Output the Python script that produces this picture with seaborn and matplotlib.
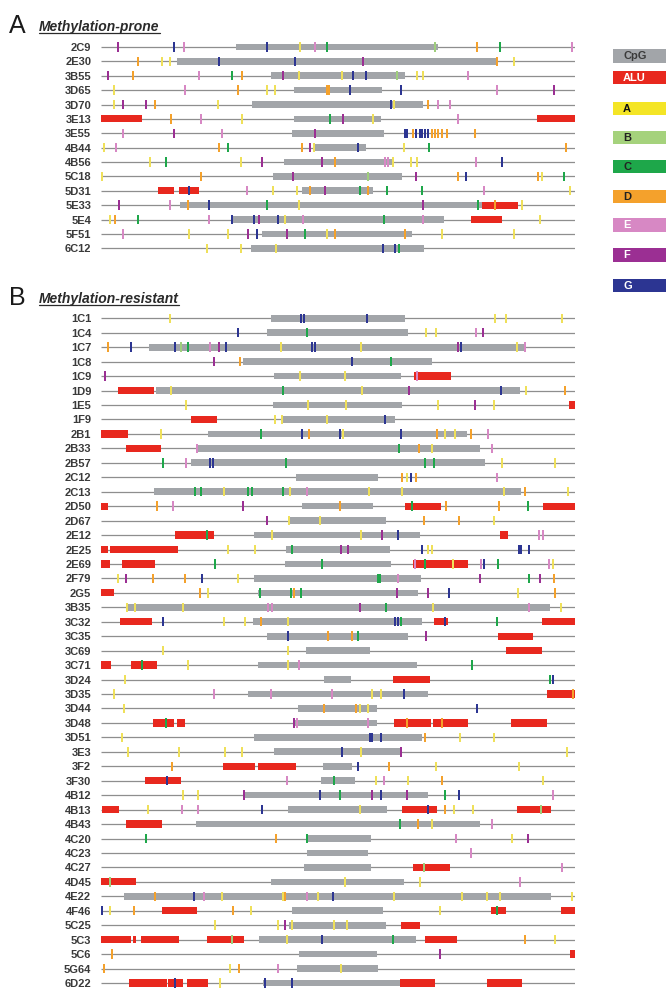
import matplotlib
matplotlib.use("Agg")
import matplotlib.pyplot as plt
import seaborn as sns
import pandas as pd
from matplotlib.lines import Line2D
from matplotlib.patches import Rectangle

# ---------------------------------------------------------------- data
# Positions are in bp along each analysed region (region spans 18..1440).
SPAN = (18, 1440)

PRONE_NAMES = ["2C9", "2E30", "3B55", "3D65", "3D70", "3E13", "3E55", "4B44",
               "4B56", "5C18", "5D31", "5E33", "5E4", "5F51", "6C12"]
PRONE_CPG = [(423, 1030), (245, 1210), (528, 930), (597, 860), (472, 985),
             (597, 858), (590, 868), (660, 812), (567, 890), (535, 922),
             (622, 833), (255, 1160), (410, 1047), (500, 952), (468, 988)]
PRONE_ALU = [[], [], [], [], [], [(18, 140), (1325, 1440)], [], [], [], [],
             [(190, 238), (252, 312)], [(1160, 1270)], [(1128, 1222)], [], []]
PRONE_MOTIFS = [
    [(68, "F"), (238, "G"), (268, "E"), (516, "G"), (615, "A"), (660, "E"), (695, "C"),
     (1020, "B"), (1145, "D"), (1215, "C"), (1430, "E")],
    [(128, "D"), (200, "A"), (225, "A"), (373, "G"), (600, "G"), (805, "F"), (1205, "D"), (1258, "A")],
    [(38, "F"), (113, "D"), (312, "E"), (410, "C"), (440, "D"), (563, "F"), (612, "A"), (742, "A"),
     (775, "G"), (812, "G"), (905, "B"), (965, "A"), (985, "A"), (1118, "E")],
    [(58, "A"), (270, "E"), (430, "D"), (515, "A"), (540, "A"), (695, "D"), (703, "D"), (765, "G"),
     (918, "G"), (1205, "E"), (1378, "F")],
    [(58, "A"), (85, "F"), (153, "F"), (180, "D"), (368, "A"), (888, "G"), (898, "A"), (998, "D"),
     (1028, "E"), (1065, "E")],
    [(228, "D"), (318, "E"), (440, "A"), (705, "C"), (745, "F"), (835, "A"), (1088, "E")],
    [(83, "E"), (238, "F"), (380, "E"), (660, "F"), (930, "G"), (936, "G"), (955, "D"), (962, "G"),
     (975, "G"), (982, "G"), (990, "G"), (998, "G"), (1010, "D"), (1020, "D"), (1030, "D"),
     (1040, "D"), (1055, "D"), (1140, "D")],
    [(28, "A"), (62, "E"), (373, "D"), (400, "C"), (620, "D"), (645, "F"), (657, "A"), (788, "G"),
     (928, "A"), (1002, "C"), (1412, "D")],
    [(165, "A"), (212, "C"), (438, "A"), (500, "F"), (680, "F"), (720, "D"), (870, "E"), (880, "E"),
     (895, "A"), (948, "A"), (965, "A"), (1142, "E"), (1220, "G")],
    [(20, "A"), (318, "D"), (595, "F"), (818, "B"), (962, "F"), (1090, "D"), (1112, "G"),
     (1330, "D"), (1340, "A"), (1408, "C")],
    [(283, "G"), (455, "E"), (535, "A"), (605, "A"), (645, "D"), (690, "F"), (795, "C"), (820, "D"),
     (875, "C"), (982, "C"), (1168, "E"), (1425, "A")],
    [(72, "F"), (225, "E"), (280, "D"), (343, "G"), (515, "C"), (612, "A"), (985, "F"), (1150, "C"),
     (1200, "D"), (1282, "A")],
    [(45, "A"), (60, "D"), (128, "C"), (343, "E"), (410, "G"), (478, "G"), (493, "F"), (550, "G"),
     (570, "A"), (625, "E"), (868, "C"), (985, "E"), (1335, "A")],
    [(85, "E"), (283, "A"), (398, "A"), (460, "F"), (485, "G"), (575, "F"), (630, "C"), (695, "A"),
     (720, "D"), (930, "D"), (1040, "A"), (1258, "A")],
    [(335, "A"), (438, "A"), (542, "A"), (865, "G"), (900, "G"), (912, "C")],
]

RESIST_NAMES = ["1C1", "1C4", "1C7", "1C8", "1C9", "1D9", "1E5", "1F9", "2B1", "2B33",
                "2B57", "2C12", "2C13", "2D50", "2D67", "2E12", "2E25", "2E69", "2F79",
                "2G5", "3B35", "3C32", "3C35", "3C69", "3C71", "3D24", "3D35", "3D44",
                "3D48", "3D51", "3E3", "3F2", "3F30", "4B12", "4B13", "4B43", "4C20",
                "4C23", "4C27", "4D45", "4E22", "4F46", "5C25", "5C3", "5C6", "5G64", "6D22"]
RESIST_CPG = [(527, 930), (515, 940), (162, 1290), (445, 1010), (538, 918), (182, 1275),
              (535, 922), (560, 900), (340, 1115), (302, 1155), (287, 1170), (603, 850),
              (178, 1277), (620, 835), (582, 872), (478, 976), (572, 885), (570, 887),
              (478, 977), (490, 970), (93, 1365), (475, 980), (515, 940), (632, 826),
              (490, 965), (687, 768), (458, 998), (610, 847), (595, 845), (477, 980),
              (538, 918), (685, 772), (677, 780), (450, 1000), (578, 877), (302, 1155),
              (632, 828), (635, 820), (627, 828), (528, 928), (88, 1368), (590, 865),
              (583, 872), (492, 962), (612, 845), (605, 850), (505, 915)]
RESIST_ALU = [
    [], [], [], [], [(957, 1068)], [(70, 177)], [(1422, 1440)], [(287, 365)], [(18, 98)],
    [(92, 198)], [], [], [], [(18, 40), (930, 1038), (1345, 1440)], [],
    [(240, 358), (1215, 1238)], [(18, 38), (45, 250)], [(18, 45), (82, 180), (955, 1120)],
    [], [(18, 58)], [], [(75, 172), (1018, 1060), (1340, 1440)], [(1208, 1315)],
    [(1232, 1342)], [(18, 48), (108, 185)], [(893, 1005)], [(1355, 1440)], [],
    [(175, 238), (245, 270), (898, 1008), (1013, 1120), (1248, 1355)], [], [],
    [(383, 480), (490, 602)], [(150, 258)], [], [(22, 72), (922, 1027), (1265, 1368)],
    [(92, 200)], [], [], [(955, 1065)], [(18, 122)], [],
    [(200, 307), (1188, 1233), (1398, 1440)], [(918, 975)],
    [(18, 108), (114, 122), (137, 252), (337, 446), (990, 1085)], [(1425, 1440)], [],
    [(103, 215), (220, 265), (275, 338), (915, 1020), (1175, 1280)],
]
RESIST_MOTIFS = [
    [(225, "A"), (618, "G"), (628, "G"), (815, "G"), (1200, "A"), (1232, "A"), (1400, "A")],
    [(430, "G"), (635, "C"), (993, "A"), (1022, "A"), (1143, "E"), (1165, "F")],
    [(38, "D"), (108, "G"), (240, "G"), (258, "B"), (280, "C"), (345, "E"), (372, "F"), (393, "G"),
     (557, "A"), (651, "G"), (659, "G"), (797, "A"), (1090, "F"), (1098, "G"), (1265, "A"), (1290, "E")],
    [(358, "F"), (435, "D"), (772, "G"), (888, "C")],
    [(30, "F"), (615, "A"), (750, "A"), (965, "E")],
    [(228, "A"), (565, "C"), (800, "A"), (942, "F"), (1218, "G"), (1292, "A"), (1410, "D")],
    [(273, "A"), (640, "A"), (752, "A"), (1030, "A"), (1140, "F"), (1198, "A")],
    [(540, "A"), (562, "A"), (695, "A"), (870, "G")],
    [(198, "A"), (497, "C"), (622, "G"), (642, "D"), (735, "G"), (745, "A"), (918, "G"),
     (1025, "D"), (1050, "A"), (1080, "A"), (1128, "D"), (1180, "E")],
    [(305, "E"), (912, "C"), (972, "D"), (1012, "A"), (1190, "E")],
    [(205, "C"), (273, "E"), (346, "G"), (354, "G"), (572, "C"), (990, "C"), (1018, "C"),
     (1220, "A"), (1380, "A")],
    [(922, "D"), (935, "A"), (947, "G"), (962, "D"), (1205, "E")],
    [(300, "C"), (318, "C"), (388, "A"), (458, "C"), (472, "C"), (565, "C"), (585, "A"),
     (635, "E"), (822, "A"), (920, "A"), (1228, "A"), (1290, "D"), (1420, "A")],
    [(185, "D"), (235, "E"), (443, "F"), (735, "D"), (950, "C"), (1052, "D"), (1212, "D"), (1300, "C")],
    [(517, "F"), (582, "A"), (675, "A"), (988, "D"), (1092, "D"), (1198, "A")],
    [(335, "C"), (530, "A"), (797, "A"), (860, "F"), (908, "G"), (1333, "E"), (1345, "E")],
    [(398, "A"), (480, "A"), (590, "C"), (738, "F"), (760, "F"), (980, "G"), (1000, "A"),
     (1010, "A"), (1271, "G"), (1279, "G"), (1302, "G")],
    [(360, "C"), (680, "C"), (960, "E"), (990, "C"), (1075, "A"), (1158, "E"), (1168, "G"),
     (1210, "C"), (1362, "E"), (1375, "A")],
    [(68, "A"), (93, "F"), (175, "D"), (270, "D"), (320, "G"), (428, "A"), (848, "C"), (856, "C"),
     (910, "E"), (1155, "F"), (1302, "C"), (1335, "F"), (1378, "D")],
    [(315, "D"), (340, "A"), (495, "C"), (588, "C"), (597, "D"), (618, "C"), (907, "F"),
     (998, "F"), (1062, "G"), (1270, "A"), (1380, "D")],
    [(95, "A"), (120, "A"), (265, "A"), (520, "E"), (530, "E"), (795, "F"), (872, "C"),
     (1015, "A"), (1302, "E"), (1398, "A")],
    [(203, "G"), (388, "A"), (450, "A"), (497, "D"), (580, "A"), (900, "G"), (908, "G"),
     (918, "C"), (1050, "G"), (1205, "C")],
    [(578, "G"), (700, "D"), (770, "D"), (790, "C"), (992, "F")],
    [(205, "A"), (580, "A")],
    [(140, "C"), (278, "A"), (580, "A"), (612, "E"), (1130, "C")],
    [(90, "A"), (1365, "C"), (1375, "G")],
    [(58, "A"), (358, "E"), (528, "E"), (712, "E"), (830, "A"), (858, "A"), (927, "G"), (1435, "D")],
    [(88, "A"), (688, "D"), (782, "D"), (795, "A"), (818, "A"), (1145, "G")],
    [(212, "C"), (597, "F"), (605, "E"), (818, "E"), (935, "D"), (1040, "D")],
    [(82, "A"), (824, "G"), (832, "G"), (857, "G"), (990, "D"), (1095, "A"), (1198, "A")],
    [(98, "A"), (253, "A"), (390, "A"), (440, "A"), (740, "G"), (797, "A"), (918, "F"), (1415, "A")],
    [(232, "D"), (788, "G"), (882, "D"), (1022, "A"), (1272, "A")],
    [(215, "G"), (577, "E"), (718, "C"), (843, "A"), (866, "E"), (940, "A"), (1042, "D"), (1345, "A")],
    [(265, "A"), (310, "A"), (446, "F"), (675, "G"), (735, "C"), (830, "F"), (858, "G"),
     (935, "F"), (1050, "C"), (1092, "G"), (1373, "E")],
    [(158, "A"), (262, "E"), (308, "E"), (500, "G"), (795, "A"), (998, "G"), (1050, "D"),
     (1077, "A"), (1133, "A"), (1338, "B")],
    [(915, "C"), (970, "D"), (1012, "A"), (1190, "E")],
    [(153, "C"), (543, "D"), (635, "C"), (1083, "E"), (1250, "A"), (1298, "F")],
    [(1127, "E")],
    [(988, "B"), (1400, "E")],
    [(45, "B"), (750, "A"), (975, "A"), (1275, "E")],
    [(180, "D"), (298, "G"), (328, "E"), (380, "A"), (565, "A"), (570, "D"), (635, "E"),
     (668, "A"), (715, "G"), (897, "A"), (1102, "A"), (1175, "A"), (1215, "A"), (1432, "A")],
    [(20, "G"), (45, "A"), (117, "D"), (415, "D"), (468, "A"), (1035, "A"), (1205, "C")],
    [(360, "A"), (550, "A"), (570, "F"), (590, "A"), (718, "A"), (755, "A")],
    [(410, "B"), (575, "A"), (682, "G"), (895, "C"), (1290, "D"), (1380, "A")],
    [(52, "D"), (1035, "F")],
    [(28, "D"), (405, "A"), (432, "D"), (548, "E"), (738, "A")],
    [(240, "G"), (375, "A"), (510, "G"), (590, "G")],
]

LEGEND_LABELS = ["CpG", "ALU", "A", "B", "C", "D", "E", "F", "G"]

# ---------------------------------------------------------------- styles
CPG_COLOR = "#a2a5a9"
ALU_COLOR = "#e8281e"
MOTIF_COLORS = {
    "A": "#f4e526", "B": "#a5d27c", "C": "#1ea74a", "D": "#f4a12c",
    "E": "#d788c4", "F": "#9b2f93", "G": "#2c3592",
}
# motif ticks on the tracks are drawn slightly softer than the key swatches
TICK_COLORS = {**MOTIF_COLORS, "A": "#efe05a", "B": "#9fce7c"}
LEGEND_COLORS = {"CpG": CPG_COLOR, "ALU": ALU_COLOR, **MOTIF_COLORS}
LEGEND_TEXT = {"CpG": "#3a3a3a", "ALU": "white", "A": "#111111", "B": "#222222",
               "C": "#222222", "D": "#222222", "E": "white", "F": "white", "G": "white"}
LINE_COLOR = "#8e8e8e"
LABEL_COLOR = "#3a3a3a"
TICK_MARKER = [(-0.12, -0.5), (0.12, -0.5), (0.12, 0.5), (-0.12, 0.5)]

sns.set_theme(style="white")
plt.rcParams["font.family"] = ["Liberation Sans", "DejaVu Sans"]

W, H = 666, 988
fig = plt.figure(figsize=(W / 100, H / 100), dpi=100)


def px_axes(left, top, right, bottom):
    return fig.add_axes([left / W, 1 - bottom / H, (right - left) / W, (bottom - top) / H])


def draw_panel(ax, names, cpg, alu, motifs):
    n = len(names)
    rows = list(range(n))
    ax.hlines(rows, SPAN[0], SPAN[1], color=LINE_COLOR, lw=0.9, zorder=1)
    ax.barh(rows, [e - s for s, e in cpg], left=[s for s, e in cpg],
            height=0.46, color=CPG_COLOR, linewidth=0, zorder=2)
    alu_rows = [i for i, segs in enumerate(alu) for _ in segs]
    alu_left = [s for segs in alu for s, _ in segs]
    alu_width = [e - s for segs in alu for s, e in segs]
    ax.barh(alu_rows, alu_width, left=alu_left, height=0.5,
            color=ALU_COLOR, linewidth=0, zorder=3)
    df = pd.DataFrame([(i, p, m) for i, row in enumerate(motifs) for p, m in row],
                      columns=["row", "pos", "motif"])
    sns.scatterplot(data=df, x="pos", y="row", hue="motif", palette=TICK_COLORS,
                    marker=TICK_MARKER, s=46, linewidth=0, legend=False,
                    ax=ax, zorder=4, clip_on=False)
    ax.set_xlim(SPAN)
    ax.set_ylim(n - 0.5, -0.5)
    ax.set_yticks(rows)
    ax.set_yticklabels(names, fontweight="bold", fontsize=8, color=LABEL_COLOR)
    ax.tick_params(axis="y", length=0, pad=7)
    ax.set_xticks([])
    ax.set_xlabel("")
    ax.set_ylabel("")
    for sp in ax.spines.values():
        sp.set_visible(False)
    ax.patch.set_alpha(0)


spacing_a = (248.3 - 47) / 14
axA = px_axes(101, 47 - spacing_a / 2, 575, 248.3 + spacing_a / 2)
draw_panel(axA, PRONE_NAMES, PRONE_CPG, PRONE_ALU, PRONE_MOTIFS)

spacing_b = (983 - 318.3) / 46
axB = px_axes(101, 318.3 - spacing_b / 2, 575, 983 + spacing_b / 2)
draw_panel(axB, RESIST_NAMES, RESIST_CPG, RESIST_ALU, RESIST_MOTIFS)

# panel headings with underlined subtitles
fig.canvas.draw()
renderer = fig.canvas.get_renderer()
for letter, subtitle, base in [("A", "Methylation-prone", 33), ("B", "Methylation-resistant", 305)]:
    fig.text(9 / W, 1 - base / H, letter, fontsize=18, color="#1a1a1a", va="baseline")
    t = fig.text(39 / W, 1 - (base - 2) / H, subtitle, fontsize=10, fontweight="bold",
                 fontstyle="italic", color="#2a2a2a", va="baseline")
    bb = t.get_window_extent(renderer)
    y_line = 1 - (base + 0.5) / H
    fig.add_artist(Line2D([bb.x0 / W, bb.x1 / W], [y_line, y_line],
                          transform=fig.transFigure, color="#2a2a2a", lw=0.9))

# legend column at the right edge
legend_y = [56, 78, 109, 138, 167, 197, 225, 255, 286]
for lab, yc in zip(LEGEND_LABELS, legend_y):
    fig.add_artist(Rectangle((613 / W, 1 - (yc + 6.5) / H), 60 / W, 13 / H,
                             transform=fig.transFigure, color=LEGEND_COLORS[lab], lw=0))
    fig.text((623 if lab != "CpG" else 624) / W, 1 - yc / H, lab, fontsize=8,
             fontweight="bold", color=LEGEND_TEXT[lab], va="center", ha="left")

fig.savefig("out.png", dpi=100)
